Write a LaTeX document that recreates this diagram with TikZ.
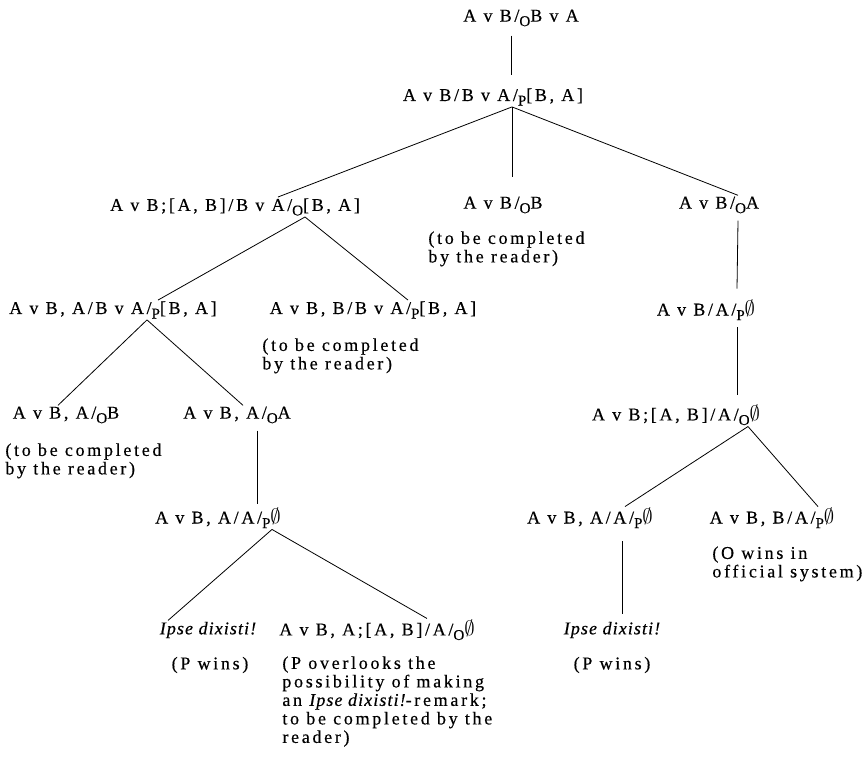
\documentclass[tikz,border=0pt]{standalone}
\usepackage{fontspec}
\setmainfont{Liberation Serif}[LetterSpace=15,FakeBold=0.4]
\usetikzlibrary{calc}
\newcommand{\lo}[1]{\raisebox{-0.55ex}{\fontsize{15}{15}\selectfont #1}}
\newcommand{\es}{{\fontsize{21}{21}\selectfont$\emptyset$}}
\newcommand{\ipse}{{\addfontfeatures{LetterSpace=6}\itshape Ipse dixisti!}}
\tikzset{
  every node/.style={font=\fontsize{18}{18.5}\selectfont, inner sep=1pt},
  note/.style={align=left, anchor=north west, inner sep=0pt}
}

\begin{document}
\begin{tikzpicture}[x=1pt,y=-1pt,line width=0.8pt]
\useasboundingbox (0,0) rectangle (867,771);

\node (n1) at (521,18) {A v B/\lo{O}B v A};
\node (n2) at (493,97) {A v B/B v A/\lo{P}[B, A]};
\node (n3) at (235,207) {A v B;[A, B]/B v A/\lo{O}[B, A]};
\node (n4) at (503,205) {A v B/\lo{O}B};
\node (n5) at (719,205) {A v B/\lo{O}A};
\node (n6) at (113,310) {A v B, A/B v A/\lo{P}[B, A]};
\node (n7) at (373,310) {A v B, B/B v A/\lo{P}[B, A]};
\node (n8) at (706,310) {A v B/A/\lo{P}\es};
\node (n9) at (676,415) {A v B;[A, B]/A/\lo{O}\es};
\node (n10) at (66,415) {A v B, A/\lo{O}B};
\node (n11) at (237,415) {A v B, A/\lo{O}A};
\node (n12) at (218,518) {A v B, A/A/\lo{P}\es};
\node (n13) at (590,518) {A v B, A/A/\lo{P}\es};
\node (n14) at (772,518) {A v B, B/A/\lo{P}\es};
\node (n15) at (208,630) {\ipse};
\node (n16) at (377,630) {A v B, A;[A, B]/A/\lo{O}\es};
\node (n17) at (612,630) {\ipse};

\node[note] (t4) at (428,231) {(to be completed\\by the reader)};
\node[note] (t7) at (262,338) {(to be completed\\by the reader)};
\node[note] (t10) at (5,443) {(to be completed\\by the reader)};
\node[note] (t14) at (712,546) {(O wins in\\official system)};
\node (t15) at (210,665) {(P wins)};
\node[note] (t16) at (282,656) {(P overlooks the\\possibility of making\\an \ipse-remark;\\to be completed by the\\reader)};
\node (t17) at (612,665) {(P wins)};

\coordinate (a2) at ($(n2.south)+(19,0)$);
\coordinate (a3) at ($(n3.south)+(70,0)$);
\coordinate (a6) at ($(n6.south)+(34,0)$);
\coordinate (a9) at ($(n9.south)+(72,0)$);
\coordinate (a12) at ($(n12.south)+(54,0)$);

\draw ($(n1.south)+(-10,8)$) -- ($(n2.north)+(18,-12)$);
\draw (a2) -- ($(n3.north)+(43,0)$);
\draw (a2) -- ($(n4.north)+(9,-18)$);
\draw (a2) -- ($(n5.north)+(19,0)$);
\draw (a3) -- ($(n6.north)+(45,0)$);
\draw (a3) -- ($(n7.north)+(35,0)$);
\draw ($(n5.south)+(19,6)$) -- ($(n8.north)+(31,-10)$);
\draw ($(n8.south)+(31,6)$) -- ($(n9.north)+(61,-8)$);
\draw (a6) -- ($(n10.north)+(-8,0)$);
\draw (a6) -- ($(n11.north)+(6,0)$);
\draw ($(n11.south)+(20,6)$) -- ($(n12.north)+(39,-3)$);
\draw (a9) -- ($(n13.north)+(35,0)$);
\draw (a9) -- ($(n14.north)+(46,0)$);
\draw (a12) -- ($(n15.north)+(-40,0)$);
\draw (a12) -- ($(n16.north)+(50,0)$);
\draw ($(n13.south)+(32,12)$) -- ($(n17.north)+(10,-6)$);
\end{tikzpicture}
\end{document}
